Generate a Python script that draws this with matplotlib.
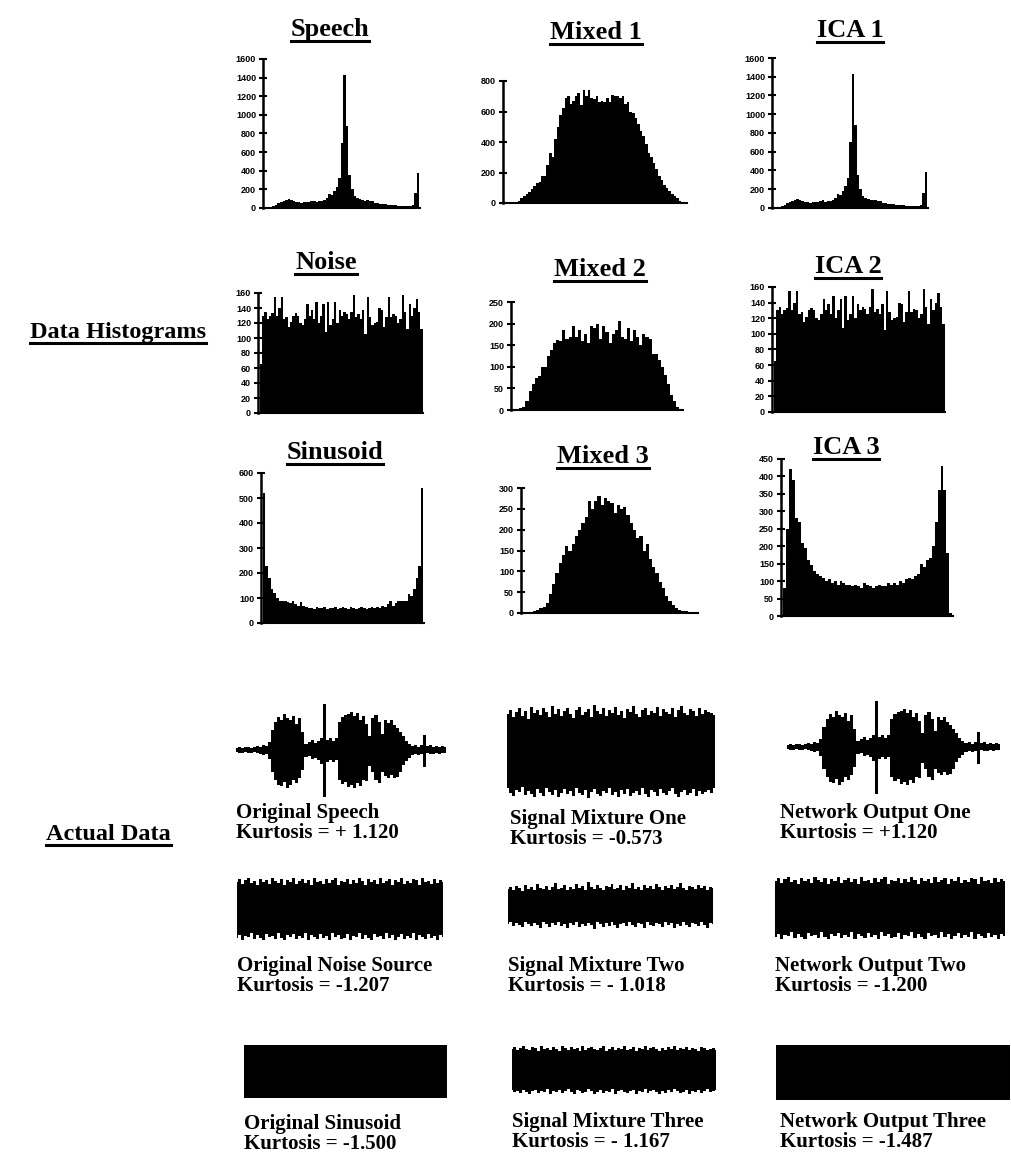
import matplotlib
matplotlib.use("Agg")
import matplotlib.pyplot as plt
from matplotlib.lines import Line2D

W, H = 1012, 1162

# ---------------- histogram data (bin counts) ----------------
speech_hist = [5, 10, 15, 25, 35, 50, 65, 75, 90, 95, 85, 75, 65, 60, 55, 60, 65, 60, 70, 80,
               65, 75, 70, 90, 110, 150, 140, 180, 230, 320, 700, 1430, 880, 350, 200, 130, 110, 95, 90, 80,
               85, 70, 75, 55, 50, 45, 40, 40, 35, 35, 30, 30, 25, 25, 25, 20, 20, 20, 30, 160, 380]
ica1_hist = speech_hist

mixed1_hist = [2, 3, 4, 5, 8, 15, 30, 45, 60, 75, 90, 110, 130, 140, 175, 180, 250, 330, 300, 420,
               500, 580, 620, 690, 700, 650, 670, 700, 720, 640, 740, 700, 740, 690, 680, 700, 660, 670, 660, 690,
               660, 710, 700, 700, 690, 700, 650, 660, 600, 590, 560, 520, 470, 440, 390, 330, 300, 260, 220, 180,
               150, 120, 100, 80, 60, 45, 30, 15, 8, 3]

noise_hist = [65, 130, 135, 125, 130, 133, 155, 130, 140, 155, 125, 128, 115, 122, 130, 133, 130, 120, 118, 125,
              145, 130, 138, 125, 148, 120, 130, 145, 108, 148, 118, 125, 148, 120, 138, 130, 135, 132, 125, 135,
              158, 128, 132, 125, 138, 105, 155, 128, 118, 120, 122, 140, 138, 115, 128, 155, 128, 132, 130, 120,
              125, 158, 135, 112, 145, 130, 140, 152, 135, 112]
ica2_hist = noise_hist

mixed2_hist = [2, 3, 5, 8, 20, 45, 60, 75, 78, 100, 100, 125, 140, 155, 162, 160, 185, 165, 170, 195,
               170, 185, 160, 175, 155, 195, 190, 200, 165, 195, 180, 155, 175, 185, 205, 170, 165, 190, 160, 185,
               170, 150, 175, 170, 165, 130, 130, 115, 100, 80, 60, 35, 20, 8, 2]

sinus_hist = [520, 230, 180, 135, 120, 100, 90, 90, 90, 85, 80, 90, 75, 70, 85, 70, 65, 60, 60, 55,
              65, 60, 60, 65, 55, 60, 60, 65, 55, 60, 65, 60, 55, 65, 60, 55, 60, 65, 60, 55,
              60, 65, 60, 65, 60, 70, 65, 75, 90, 70, 80, 90, 90, 90, 90, 115, 110, 135, 180, 230, 540]

mixed3_hist = [1, 2, 3, 5, 8, 12, 15, 25, 45, 70, 95, 120, 140, 160, 150, 165, 185, 200, 215, 230,
               270, 250, 270, 280, 260, 275, 270, 265, 240, 260, 250, 255, 235, 215, 200, 180, 185, 150, 165, 130,
               110, 95, 75, 60, 40, 30, 20, 12, 8, 5, 4, 3, 2, 1]

ica3_hist = [80, 250, 420, 390, 280, 270, 210, 195, 160, 145, 130, 120, 115, 110, 100, 105, 95, 100, 90, 100,
             95, 90, 88, 85, 90, 85, 80, 95, 90, 85, 80, 85, 90, 85, 85, 95, 90, 95, 90, 100,
             95, 105, 110, 105, 115, 120, 150, 140, 160, 165, 200, 270, 360, 430, 360, 180, 10]

hist_titles = ["Speech", "Mixed 1", "ICA 1", "Noise", "Mixed 2", "ICA 2", "Sinusoid", "Mixed 3", "ICA 3"]
hist_data = [speech_hist, mixed1_hist, ica1_hist, noise_hist, mixed2_hist, ica2_hist,
             sinus_hist, mixed3_hist, ica3_hist]
hist_ymax = [1600, 800, 1600, 160, 250, 160, 600, 300, 450]
hist_ystep = [200, 200, 200, 20, 50, 20, 100, 50, 50]

# ---------------- waveform envelopes (upper / lower amplitude, px) ----------------
speech_up = [2, 3, 2, 3, 3, 2, 3, 4, 3, 5, 4, 8, 20, 28, 33, 30, 36, 32, 30, 34,
             26, 32, 18, 6, 8, 10, 7, 9, 12, 46, 10, 12, 9, 12, 28, 33, 35, 36, 38, 34,
             37, 30, 34, 26, 14, 32, 35, 28, 16, 30, 27, 30, 25, 22, 18, 14, 9, 6, 4, 5,
             3, 5, 15, 4, 5, 3, 4, 3, 4, 3]
speech_dn = [2, 3, 3, 2, 3, 3, 2, 3, 4, 5, 4, 9, 22, 30, 35, 36, 32, 38, 35, 30,
             33, 28, 20, 7, 6, 9, 8, 10, 14, 47, 12, 10, 12, 10, 30, 34, 32, 37, 35, 38,
             33, 36, 30, 31, 16, 22, 30, 33, 22, 26, 28, 25, 28, 27, 22, 15, 11, 8, 5, 4,
             5, 4, 17, 3, 4, 4, 3, 4, 3, 3]

mix1_up = [38, 42, 35, 40, 44, 36, 41, 33, 45, 39, 42, 37, 44, 40, 35, 46, 38, 43, 36, 41,
           44, 38, 34, 42, 45, 37, 40, 43, 35, 47, 41, 38, 44, 36, 42, 39, 45, 37, 41, 34,
           43, 40, 46, 38, 35, 42, 44, 37, 41, 39, 45, 36, 43, 40, 38, 44, 35, 42, 46, 39,
           37, 43, 41, 36, 44, 38, 42, 40, 39, 37]
mix1_dn = [36, 41, 44, 38, 40, 35, 43, 39, 42, 45, 37, 41, 44, 36, 40, 43, 38, 45, 41, 37,
           42, 39, 44, 36, 41, 43, 38, 46, 40, 37, 42, 44, 39, 41, 36, 43, 40, 45, 38, 42,
           37, 44, 41, 39, 43, 36, 42, 45, 38, 40, 44, 37, 41, 43, 39, 36, 42, 45, 40, 38,
           43, 41, 37, 44, 39, 42, 40, 38, 41, 36]

noise_up = [27, 30, 25, 29, 31, 26, 28, 24, 30, 27, 29, 25, 31, 28, 26, 30, 24, 29, 27, 31,
            25, 28, 30, 26, 29, 24, 31, 27, 28, 25, 30, 26, 29, 31, 24, 28, 27, 30, 25, 29,
            26, 31, 28, 24, 30, 27, 29, 25, 31, 26, 28, 30, 24, 29, 27, 31, 25, 28, 26, 30,
            29, 24, 31, 27, 28, 25, 30, 26, 29, 27]
noise_dn = [29, 26, 31, 27, 28, 24, 30, 26, 29, 31, 25, 28, 27, 30, 24, 29, 31, 26, 28, 25,
            30, 27, 29, 24, 31, 26, 28, 30, 25, 29, 27, 31, 24, 28, 26, 30, 29, 25, 31, 27,
            28, 24, 30, 26, 29, 31, 25, 28, 27, 30, 24, 29, 26, 31, 28, 25, 30, 27, 29, 24,
            31, 26, 28, 30, 25, 29, 27, 31, 26, 28]

mix2_up = [17, 19, 16, 20, 18, 15, 21, 17, 19, 16, 22, 18, 17, 20, 16, 19, 23, 17, 18, 21,
           16, 19, 17, 22, 18, 20, 16, 24, 19, 17, 21, 18, 16, 20, 19, 22, 17, 18, 21, 16,
           20, 18, 23, 17, 19, 16, 21, 18, 20, 17, 22, 19, 16, 20, 18, 21, 17, 19, 23, 18,
           16, 20, 19, 17, 21, 18, 20, 16, 19, 18]
mix2_dn = [18, 16, 20, 17, 19, 21, 16, 18, 20, 17, 19, 22, 16, 18, 21, 17, 19, 16, 20, 18,
           22, 17, 19, 16, 21, 18, 20, 17, 19, 23, 16, 18, 21, 17, 20, 16, 19, 22, 18, 17,
           20, 16, 19, 21, 17, 18, 22, 16, 19, 20, 17, 18, 21, 16, 19, 17, 22, 18, 20, 16,
           19, 21, 17, 18, 20, 16, 19, 22, 17, 18]

mix3_up = [21, 23, 20, 22, 24, 21, 20, 23, 22, 19, 24, 21, 22, 20, 23, 21, 19, 24, 22, 20,
           23, 21, 22, 19, 24, 20, 22, 23, 21, 20, 22, 24, 19, 21, 23, 20, 22, 21, 24, 20,
           21, 23, 19, 22, 21, 24, 20, 22, 23, 21, 19, 22, 20, 23, 21, 24, 20, 22, 21, 23,
           20, 22, 21, 19, 23, 22, 20, 21, 22, 20]
mix3_dn = [20, 22, 21, 23, 20, 22, 24, 21, 20, 23, 21, 22, 19, 24, 21, 22, 20, 23, 21, 19,
           22, 24, 20, 21, 23, 22, 19, 21, 24, 22, 20, 23, 21, 22, 19, 24, 21, 20, 22, 23,
           21, 20, 24, 21, 22, 19, 23, 21, 20, 22, 24, 21, 23, 20, 22, 19, 21, 23, 22, 20,
           24, 21, 22, 20, 23, 21, 19, 22, 21, 20]

sinus_up = [26, 26]
sinus_dn = [27, 27]
out3_up = [27, 27]
out3_dn = [28, 28]

wave_data = [(speech_up, speech_dn), (mix1_up, mix1_dn), (speech_up, speech_dn),
             (noise_up, noise_dn), (mix2_up, mix2_dn), (noise_up, noise_dn),
             (sinus_up, sinus_dn), (mix3_up, mix3_dn), (out3_up, out3_dn)]
wave_labels = ["Original Speech", "Signal Mixture One", "Network Output One",
               "Original Noise Source", "Signal Mixture Two", "Network Output Two",
               "Original Sinusoid", "Signal Mixture Three", "Network Output Three"]
kurtosis_labels = ["Kurtosis = + 1.120", "Kurtosis = -0.573", "Kurtosis = +1.120",
                   "Kurtosis = -1.207", "Kurtosis = - 1.018", "Kurtosis = -1.200",
                   "Kurtosis = -1.500", "Kurtosis = - 1.167", "Kurtosis = -1.487"]

# ---------------- layout (pixels) ----------------
# histogram axes: x of y-axis, right end, y of top tick, y of zero
hist_box = [(263, 420, 59, 208), (503, 687, 81, 203), (772, 928, 58, 208),
            (258, 423, 293, 413), (511, 683, 302, 410), (772, 945, 287, 412),
            (261, 424, 473, 623), (521, 698, 488, 613), (781, 953, 459, 616)]
# title centre x, baseline y
title_pos = [(330, 36), (596, 39), (850, 37), (326, 269), (600, 276), (848, 273),
             (335, 459), (603, 463), (846, 454)]
# waveform: x0, x1, centre y
wave_box = [(236, 446, 750), (507, 715, 752), (787, 1000, 747),
            (237, 443, 909), (508, 713, 906), (775, 1005, 908),
            (244, 447, 1071), (512, 716, 1070), (776, 1010, 1072)]
label_pos = [(236, 818), (510, 824), (780, 818),
             (237, 971), (508, 971), (775, 971),
             (244, 1129), (512, 1127), (780, 1127)]

fig = plt.figure(figsize=(W / 100, H / 100), dpi=100)
serif = "Liberation Serif"


def px_axes(x0, x1, ytop, ybot):
    return fig.add_axes([x0 / W, 1 - ybot / H, (x1 - x0) / W, (ybot - ytop) / H])


underlined = []


def heading(x, y, s, size, ha):
    t = fig.text(x / W, 1 - y / H, s, fontsize=size, fontweight="bold", family=serif,
                 ha=ha, va="baseline")
    underlined.append((t, y))


for i in range(9):
    x0, x1, yt, yb = hist_box[i]
    ax = px_axes(x0, x1, yt, yb)
    vals = hist_data[i]
    ax.bar(range(len(vals)), vals, width=1.0, color="black", linewidth=0)
    ax.set_xlim(-1.2, len(vals) - 0.3)
    ax.set_ylim(0, hist_ymax[i])
    ax.set_yticks(range(0, hist_ymax[i] + 1, hist_ystep[i]))
    ax.set_xticks([])
    for sp in ["top", "right"]:
        ax.spines[sp].set_visible(False)
    ax.spines["left"].set_linewidth(1.8)
    ax.spines["bottom"].set_linewidth(1.5)
    ax.tick_params(axis="y", direction="inout", length=6, width=1.5, pad=2)
    for lab in ax.get_yticklabels():
        lab.set_family("Liberation Sans")
        lab.set_fontweight("bold")
        lab.set_fontsize(6.5)
    ax.set_facecolor("none")
    heading(title_pos[i][0], title_pos[i][1], hist_titles[i], 19, "center")

for i in range(9):
    x0, x1, yc = wave_box[i]
    ax = px_axes(x0, x1, yc - 50, yc + 50)
    up, dn = wave_data[i]
    xs = range(len(up))
    ax.fill_between(xs, [-d for d in dn], up, step="mid", color="black", linewidth=0)
    ax.set_xlim(0, len(up) - 1)
    ax.set_ylim(-50, 50)
    ax.axis("off")
    lx, ly = label_pos[i]
    fig.text(lx / W, 1 - ly / H, wave_labels[i], fontsize=15, fontweight="bold",
             family=serif, va="baseline")
    fig.text(lx / W, 1 - (ly + 20) / H, kurtosis_labels[i], fontsize=15, fontweight="bold",
             family=serif, va="baseline")

heading(30, 338, "Data Histograms", 17.5, "left")
heading(46, 840, "Actual Data", 17.5, "left")

fig.canvas.draw()
renderer = fig.canvas.get_renderer()
for t, y in underlined:
    bb = t.get_window_extent(renderer)
    yy = 1 - (y + 5) / H
    fig.add_artist(Line2D([bb.x0 / W, bb.x1 / W], [yy, yy], color="black", linewidth=2.2,
                          transform=fig.transFigure))

fig.savefig("out.png", dpi=100)
